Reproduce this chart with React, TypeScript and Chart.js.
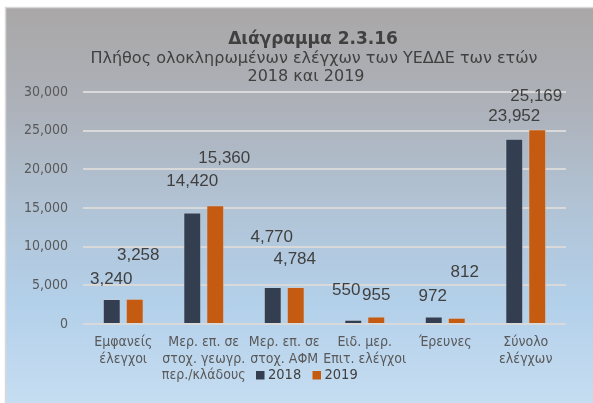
import { useEffect, useRef } from "react";
import { Chart, registerables } from "chart.js";

Chart.register(...registerables);

const categories: string[][] = [
  ["Εμφανείς", "έλεγχοι"],
  ["Μερ. επ. σε", "στοχ. γεωγρ.", "περ./κλάδους"],
  ["Μερ. επ. σε", "στοχ. ΑΦΜ"],
  ["Ειδ. μερ.", "Επιτ. ελέγχοι"],
  ["Έρευνες"],
  ["Σύνολο", "ελέγχων"],
];
const seriesNames = ["2018", "2019"];
const values2018 = [3240, 14420, 4770, 550, 972, 23952];
const values2019 = [3258, 15360, 4784, 955, 812, 25169];
const yTicks = [0, 5000, 10000, 15000, 20000, 25000, 30000];

const titleText = "Διάγραμμα 2.3.16";
const subtitleLines = ["Πλήθος ολοκληρωμένων ελέγχων των ΥΕΔΔΕ των ετών", "2018 και 2019"];

// label offsets (px) from the top-centre of each bar, as placed in the original
const labelOffsets2018: [number, number][] = [
  [-0.5, -20], [0, -31], [-1, -50], [-7, -29.5], [-1, -20.5], [0, -22.5],
];
const labelOffsets2019: [number, number][] = [
  [3.5, -43.5], [9, -46.5], [-1, -28], [0, -21], [8, -45.5], [-1, -33],
];

const COLORS = ["#333F50", "#C55A11"];
const COND = "'DejaVu Sans Condensed', 'DejaVu Sans', sans-serif";
const WIDE = "'DejaVu Sans', sans-serif";
const ARIAL = "'Liberation Sans', Arial, sans-serif";

const decorPlugin = {
  id: "decor",
  beforeDraw(chart: any) {
    const { ctx, width, height } = chart;
    ctx.save();
    ctx.fillStyle = "#ffffff";
    ctx.fillRect(0, 0, width, height);
    const g = ctx.createLinearGradient(0, 7, 0, height);
    g.addColorStop(0, "#A9A7A7");
    g.addColorStop(0.25, "#ADB1B9");
    g.addColorStop(0.5, "#B1C3D5");
    g.addColorStop(0.75, "#B3D0EA");
    g.addColorStop(1, "#C6DDF1");
    ctx.fillStyle = g;
    ctx.fillRect(5, 7, width - 5, height - 7);
    ctx.strokeStyle = "#D9D9D9";
    ctx.lineWidth = 1.5;
    ctx.beginPath();
    ctx.moveTo(5.5, height);
    ctx.lineTo(5.5, 7.5);
    ctx.lineTo(width, 7.5);
    ctx.stroke();
    ctx.restore();
  },
  afterDraw(chart: any) {
    const { ctx } = chart;
    ctx.save();
    ctx.textAlign = "center";
    ctx.textBaseline = "middle";
    ctx.fillStyle = "#404040";
    ctx.font = `bold 17px ${WIDE}`;
    ctx.fillText(titleText, 313, 40);
    ctx.font = `16px ${WIDE}`;
    ctx.fillText(subtitleLines[0], 314, 58.5);
    ctx.fillText(subtitleLines[1], 306, 77);

    // legend
    const legendX = [256, 312.5];
    ctx.textAlign = "left";
    ctx.font = `14.5px ${COND}`;
    seriesNames.forEach((name, i) => {
      ctx.fillStyle = COLORS[i];
      ctx.fillRect(legendX[i], 371, 8.5, 8.5);
      ctx.fillStyle = "#404040";
      ctx.fillText(name, legendX[i] + 12, 375.5);
    });
    ctx.restore();
  },
};

const labelPlugin = {
  id: "barLabels",
  afterDatasetsDraw(chart: any) {
    const { ctx } = chart;
    ctx.save();
    ctx.textAlign = "center";
    ctx.textBaseline = "middle";
    ctx.fillStyle = "#404040";
    ctx.font = `17px ${ARIAL}`;
    const offs = [labelOffsets2018, labelOffsets2019];
    chart.data.datasets.forEach((ds: any, di: number) => {
      const meta = chart.getDatasetMeta(di);
      meta.data.forEach((el: any, i: number) => {
        const v = ds.data[i] as number;
        const [dx, dy] = offs[di][i];
        ctx.fillText(v.toLocaleString("en-US"), el.x + dx, el.y + dy);
      });
    });
    ctx.restore();
  },
};

export default function App() {
  const ref = useRef<HTMLCanvasElement>(null);
  useEffect(() => {
    document.body.style.margin = "0";
    const chart = new Chart(ref.current!, {
      type: "bar",
      data: {
        labels: categories,
        datasets: [
          {
            label: seriesNames[0],
            data: values2018,
            backgroundColor: COLORS[0],
            borderColor: "rgba(200,205,215,0.55)",
            borderWidth: 1,
            categoryPercentage: 0.571,
            barPercentage: 0.78,
          },
          {
            label: seriesNames[1],
            data: values2019,
            backgroundColor: COLORS[1],
            borderColor: "rgba(215,200,190,0.55)",
            borderWidth: 1,
            categoryPercentage: 0.571,
            barPercentage: 0.78,
          },
        ],
      },
      options: {
        responsive: false,
        animation: false,
        layout: { padding: { left: 0, top: 92, right: 27, bottom: 0 } },
        plugins: {
          legend: { display: false },
          title: { display: false },
          tooltip: { enabled: false },
        },
        scales: {
          x: {
            grid: { display: false },
            border: { display: false },
            ticks: {
              color: "#595959",
              padding: 2,
              maxRotation: 0,
              autoSkip: false,
              font: { family: COND, size: 14, lineHeight: 1.19 },
            },
            afterFit(axis: any) {
              axis.height = 79;
            },
          },
          y: {
            min: 0,
            max: 30000,
            afterBuildTicks(axis: any) {
              axis.ticks = yTicks.map((v) => ({ value: v }));
            },
            grid: { color: "#D9D9D9", lineWidth: 2, drawTicks: false },
            border: { display: false },
            ticks: {
              color: "#595959",
              padding: 15,
              font: { family: COND, size: 14 },
              callback: (v: any) => Number(v).toLocaleString("en-US"),
            },
            afterFit(axis: any) {
              axis.width = 83;
            },
          },
        },
      },
      plugins: [decorPlugin, labelPlugin],
    });
    return () => chart.destroy();
  }, []);
  return <canvas ref={ref} width={593} height={403} style={{ display: "block" }} />;
}
